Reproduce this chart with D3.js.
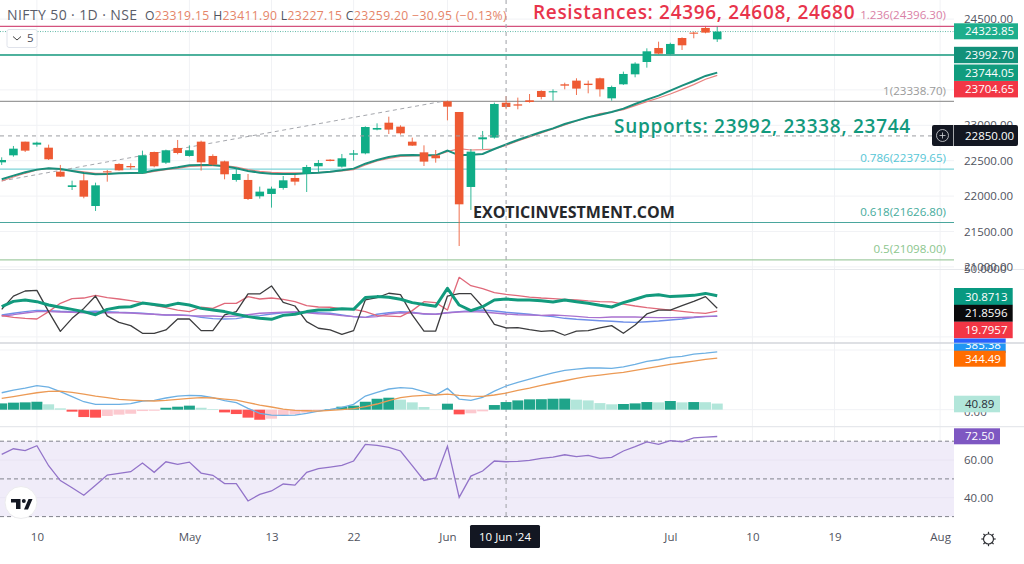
<!DOCTYPE html>
<html><head><meta charset="utf-8">
<script src="https://cdnjs.cloudflare.com/ajax/libs/d3/7.8.5/d3.min.js"></script>
<style>
html,body{margin:0;padding:0;background:#fff;overflow:hidden}
svg{display:block}
text{font-family:"Open Sans",sans-serif}
.tick line,.domain{display:none}
</style></head><body><svg id="c" width="1024" height="564"></svg>
<script>
const opens=[22477,22576,22769,22727,22684,22345,22129,22223,21860,22350,22454,22425,22322,22623,22472,22680,22567,22769,22567,22491,22228,22228,21997,22030,22115,22256,22317,22421,22515,22416,22585,22604,22939,23037,22981,22769,22618,22576,23339,23188,22129,22802,22826,23319.15,23296,23353,23485,23471,23579,23631,23588,23664,23381,23579,23720,23894,24092,24007,24233,24309,24375,24214];
const highs=[22548,22708,22769,22769,22727,22440,22218,22312,22190,22369,22463,22463,22642,22628,22656,22793,22717,22783,22590,22501,22392,22312,22134,22134,22284,22298,22440,22510,22520,22595,22651,22986,23028,23122,23000,22826,22717,22651,23348,23188,22665,22920,23320,23411.9,23391,23442,23494,23508,23602,23664,23631,23673,23560,23758,23890,24087,24181,24167,24243,24323,24403,24393];
const lows=[22440,22557,22623,22698,22510,22270,22086,21969,21790,22204,22360,22378,22312,22407,22454,22590,22557,22360,22430,22237,22204,21945,21964,21837,22091,22152,22058,22336,22491,22402,22501,22590,22929,22877,22868,22708,22425,22472,23070,21295,21804,22665,22811,23227.15,23226,23320,23367,23348,23508,23428,23452,23405,23348,23570,23678,23814,24003,23998,24064,24229,24299,24177];
const closes=[22510,22670,22642,22755,22520,22275,22152,21992,22152,22336,22364,22407,22576,22421,22647,22609,22647,22477,22444,22308,22312,21959,22063,22105,22223,22204,22411,22468,22496,22534,22604,22976,22962,22939,22887,22713,22487,22534,23263,21884,22628,22830,23301,23259.2,23278,23329,23400,23480,23560,23518,23569,23508,23541,23725,23871,24045,24012,24149,24130,24294,24309,24323.85];
const emaFast=[22237,22289,22336,22374,22392,22383,22355,22327,22308,22312,22322,22327,22331,22360,22383,22407,22435,22440,22440,22421,22392,22355,22331,22317,22312,22312,22322,22331,22345,22364,22388,22458,22510,22553,22576,22581,22576,22576,22642,22576,22585,22595,22665,22731,22793,22849,22906,22957,23019,23066,23113,23150,23188,23235,23301,23362,23419,23489,23560,23626,23697,23744.05];
const emaSlow=[22214,22270,22322,22369,22392,22383,22360,22341,22322,22322,22322,22322,22322,22350,22374,22392,22421,22425,22430,22430,22411,22374,22350,22336,22327,22327,22322,22331,22341,22355,22374,22440,22496,22534,22562,22567,22571,22576,22628,22670,22651,22656,22665,22717,22779,22835,22892,22948,23004,23061,23113,23165,23188,23221,23278,23334,23386,23442,23508,23574,23650,23704.65];
const adxGreen=[23.0,26.8,27.8,26.6,24.2,22.6,21.1,19.5,17.3,21.1,22.6,23.0,25.6,24.5,23.5,25.4,24.2,21.8,20.7,19.5,17.6,15.9,14.7,14.0,16.8,17.6,19.5,20.7,20.9,21.6,21.1,29.5,30.2,29.7,28.3,25.9,24.5,23.3,36.1,24.2,20.2,23.0,27.8,28.5,27.8,27.8,27.3,26.4,27.8,26.6,25.4,24.0,22.8,25.9,28.3,30.9,31.6,30.2,30.6,31.1,32.5,30.8713];
const adxBlack=[21.1,30.6,34.2,34.7,19.5,5.4,14.7,21.8,30.6,16.4,11.8,9.5,4.0,4.0,6.4,14.2,14.2,5.9,5.9,17.1,19.5,32.1,32.1,37.8,26.1,23.5,12.3,7.6,6.4,3.3,5.9,27.8,29.5,32.6,31.6,17.1,5.6,5.6,30.6,32.3,32.3,23.0,10.4,7.8,8.0,6.6,5.4,5.9,2.6,5.6,5.9,7.8,9.5,4.0,9.9,17.8,20.6,20.6,23.7,26.8,30.2,21.8596];
const adxRed=[16.6,15.4,14.7,14.2,19.5,25.4,28.7,29.2,31.1,29.5,28.5,27.3,25.9,24.0,22.3,20.6,19.5,22.6,21.8,25.4,25.4,30.2,28.5,29.2,28.3,26.6,23.7,22.8,22.6,21.4,21.1,19.5,16.6,16.3,15.9,20.2,26.6,25.9,20.6,44.0,38.0,35.9,33.0,31.8,30.9,29.9,29.2,28.7,28.3,27.8,27.1,26.6,26.4,24.9,23.5,22.3,21.4,20.6,19.7,18.7,18.3,19.7957];
const adxBlue=[17.1,18.3,19.5,20.4,20.2,19.7,19.5,19.5,19.7,19.5,19.0,18.7,18.3,17.6,17.1,17.1,16.8,15.4,14.5,14.2,14.5,15.9,16.6,17.8,18.7,19.0,19.2,18.7,18.3,17.1,15.9,15.4,17.6,18.7,19.5,19.0,17.8,17.6,18.7,19.5,20.2,20.6,19.9,19.0,18.3,17.6,16.6,15.9,14.7,14.0,13.5,13.0,12.6,12.1,11.8,12.3,12.8,13.5,14.2,15.2,15.9,16.4];
const adxPurple=[16.4,17.3,18.5,19.5,19.5,19.2,19.0,18.7,18.7,18.7,18.7,18.5,18.0,17.6,17.1,17.1,16.6,16.4,16.4,15.9,16.4,17.3,18.3,18.7,19.0,19.2,18.7,18.0,17.6,16.6,15.9,15.4,15.9,17.8,18.7,18.5,18.0,17.6,18.7,19.2,19.5,19.2,18.5,17.8,17.3,17.1,16.8,17.1,16.6,16.1,15.4,15.2,15.6,15.6,15.6,15.4,15.2,15.2,15.4,15.6,16.1,16.1];
const macdLine=[113,131,144,160,151,120,87,53,36,36,36,40,58,62,78,91,95,93,80,60,47,9,-24,-36,-38,-36,-24,-9,2,16,36,91,115,138,147,142,120,98,142,71,62,82,124,158,182,204,226,246,262,271,278,278,275,286,302,322,333,349,355,371,377,385.38];
const signalLine=[75,87,100,113,122,124,115,104,91,80,69,64,60,58,62,69,75,80,78,71,64,47,31,18,4,-4,-7,-9,-4,0,7,20,38,60,80,91,95,98,104,95,91,89,98,111,129,144,162,178,193,209,222,231,240,249,262,275,289,302,313,324,335,344.49];
const macdHist=[42,47,49,53,36,9,-13,-49,-53,-42,-33,-27,-9,-7,13,20,27,13,4,-18,-29,-53,-67,-60,-36,-31,-20,-7,4,20,27,53,73,80,67,49,18,1,40,-31,-24,-11,31,51,62,69,70,73,74,67,62,44,36,38,42,51,49,58,49,51,50,40.89];
const rsiValues=[63.0,66.0,65.0,67.6,57.0,49.1,45.3,41.3,46.6,52.0,52.9,53.8,58.4,53.5,59.1,57.7,58.9,53.1,51.9,47.5,47.5,38.3,41.8,43.6,47.3,46.7,53.5,55.4,56.3,57.2,59.5,68.3,67.8,66.7,64.8,57.0,49.2,50.5,67.3,40.2,51.5,54.2,59.5,59.1,59.3,59.8,60.9,61.6,62.8,61.8,62.5,60.9,61.4,64.8,67.1,69.6,68.3,70.3,69.7,71.8,72.2,72.5];
const timeTickIdx=[3,16,23,30,38,57,64,71,80];
const timeTickLabels=["10","May","13","22","Jun","Jul","10","19","Aug"];
const priceTicks=[24500,24000,23500,23000,22500,22000,21500,21000];
const fibLevels=[1.236,1,0.786,0.618,0.5];
const fibPrices=[24396.30,23338.70,22379.65,21626.80,21098.00];
const fibColors=["#d4527e","#9b9b9b","#7ed3d8","#4aa69d","#a3cda4"];
const fibTextColors=["#d97fa6","#9a9a9a","#55c6d6","#45ab9c","#8cc68e"];
const resistanceLevel=23992.70, lastPrice=24323.85, crossPrice=22850, crossIdx=43;
const trendStart={i:0,v:22214}, trendEnd={i:37.6,v:23338.7};

const svg=d3.select("#c");
const W=954;
const x=d3.scaleLinear().domain([0,80]).range([1.7,940.1]);
const y=d3.scaleLinear().domain([21000,24500]).range([266.9,19.1]);
const yAdx=d3.scaleLinear().domain([0,50]).range([338.9,268.9]);
const yMacd=d3.scaleLinear().domain([0,385.38]).range([409.7,351.9]);
const yRsi=d3.scaleLinear().domain([30,70]).range([516.6,441.2]);
const idx=d3.range(opens.length);
const gray="#50535e";
svg.append("rect").attr("width",1024).attr("height",564).attr("fill","#fff");
svg.append("defs").html('<clipPath id="cm"><rect x="0" y="0" width="954" height="268"/></clipPath><clipPath id="cb"><rect x="954" y="343.6" width="70" height="20"/></clipPath><clipPath id="ca"><rect x="954" y="330" width="70" height="12.8"/></clipPath>');

// grids
const grid=svg.append("g").attr("stroke","#f1f2f5").attr("stroke-width",1);
timeTickIdx.forEach(t=>grid.append("line").attr("x1",x(t)).attr("x2",x(t)).attr("y1",0).attr("y2",517));
priceTicks.forEach(p=>grid.append("line").attr("x1",0).attr("x2",W).attr("y1",y(p)).attr("y2",y(p)));
[0].forEach(p=>grid.append("line").attr("x1",0).attr("x2",W).attr("y1",yAdx(p)-2).attr("y2",yAdx(p)-2));
[yMacd(0),350].forEach(p=>grid.append("line").attr("x1",0).attr("x2",W).attr("y1",p).attr("y2",p));

// RSI band
svg.append("rect").attr("x",0).attr("width",W).attr("y",yRsi(70)).attr("height",yRsi(30)-yRsi(70)).attr("fill","#f0ecf9");
[60,40].forEach(p=>svg.append("line").attr("x1",0).attr("x2",W).attr("y1",yRsi(p)).attr("y2",yRsi(p)).attr("stroke","#e9e5f3"));
[70,50,30].forEach(p=>svg.append("line").attr("x1",0).attr("x2",W).attr("y1",yRsi(p)).attr("y2",yRsi(p)).attr("stroke","#81838c").attr("stroke-dasharray","4 3").attr("stroke-width",1));

// separators
[269.5,343,426.6].forEach((p,i)=>svg.append("line").attr("x1",0).attr("x2",1024).attr("y1",p).attr("y2",p).attr("stroke",i==1?"#d3d6db":"#e6e8ec").attr("stroke-width",i==1?1.6:1.2));

// fib and level lines
const m=svg.append("g").attr("clip-path","url(#cm)");
fibPrices.forEach((p,i)=>m.append("line").attr("x1",0).attr("x2",W).attr("y1",y(p)).attr("y2",y(p)).attr("stroke",fibColors[i]).attr("stroke-width",i==1?1.3:1.2));
m.append("line").attr("x1",0).attr("x2",W).attr("y1",y(resistanceLevel)).attr("y2",y(resistanceLevel)).attr("stroke","#149a7e").attr("stroke-width",1.7);
m.append("line").attr("x1",0).attr("x2",W).attr("y1",y(lastPrice)).attr("y2",y(lastPrice)).attr("stroke","#63b9a8").attr("stroke-dasharray","1 1.5").attr("stroke-width",1);
m.append("line").attr("x1",x(trendStart.i)).attr("x2",x(trendEnd.i)).attr("y1",y(trendStart.v)).attr("y2",y(trendEnd.v)).attr("stroke","#a5a7ad").attr("stroke-dasharray","4 3.5").attr("stroke-width",1);

// moving averages
const line=(ys)=>d3.line().x((d,i)=>x(i)).y(d=>ys(d));
m.append("path").attr("d",line(y)(emaSlow)).attr("fill","none").attr("stroke","#e8827f").attr("stroke-width",1.2);
m.append("path").attr("d",line(y)(emaFast)).attr("fill","none").attr("stroke","#1a8f7c").attr("stroke-width",2);

// crosshair
svg.append("line").attr("x1",x(crossIdx)).attr("x2",x(crossIdx)).attr("y1",0).attr("y2",517).attr("stroke","#a6a8ae").attr("stroke-width",1.1).attr("stroke-dasharray","4 4");
svg.append("line").attr("x1",0).attr("x2",932).attr("y1",y(crossPrice)).attr("y2",y(crossPrice)).attr("stroke","#9b9da3").attr("stroke-width",1).attr("stroke-dasharray","4 4");

// candles
const up="#10ad87", dn="#ee5a33";
const col=i=>closes[i]>=opens[i]?up:dn;
m.selectAll("line.w").data(idx).join("line").attr("class","w").attr("x1",x).attr("x2",x).attr("y1",i=>y(highs[i])).attr("y2",i=>y(lows[i])).attr("stroke",col).attr("stroke-width",1).attr("opacity",.85);
m.selectAll("rect.b").data(idx).join("rect").attr("class","b").attr("x",i=>x(i)-4.3).attr("width",8.6)
 .attr("y",i=>y(Math.max(opens[i],closes[i]))).attr("height",i=>Math.max(1,Math.abs(y(opens[i])-y(closes[i])))).attr("fill",col);

// ADX pane
[[adxBlue,"#6f8fe8",1.4],[adxPurple,"#a971cf",1.4],[adxRed,"#e0697a",1.3],[adxBlack,"#3c3c3e",1.3],[adxGreen,"#129a7d",3]].forEach(([s,c,w])=>
 svg.append("path").attr("d",line(yAdx)(s)).attr("fill","none").attr("stroke",c).attr("stroke-width",w).attr("stroke-linejoin","round"));

// MACD
const histCol=i=>{const v=macdHist[i],p=i?macdHist[i-1]:v-1;return v>=0?(v>p?"#1fa48a":"#b2e6da"):(v<p?"#ff5252":"#fcc9cf")};
svg.selectAll("rect.h").data(idx).join("rect").attr("class","h").attr("x",i=>x(i)-5.5).attr("width",11)
 .attr("y",i=>Math.min(yMacd(0),yMacd(macdHist[i]))).attr("height",i=>Math.abs(yMacd(macdHist[i])-yMacd(0))).attr("fill",histCol);
svg.append("path").attr("d",line(yMacd)(macdLine)).attr("fill","none").attr("stroke","#6db0e3").attr("stroke-width",1.3);
svg.append("path").attr("d",line(yMacd)(signalLine)).attr("fill","none").attr("stroke","#ec9a55").attr("stroke-width",1.3);

// RSI
svg.append("path").attr("d",line(yRsi)(rsiValues)).attr("fill","none").attr("stroke","#9273c9").attr("stroke-width",1.3);

// Axes
function axisStyle(g){g.selectAll("text").attr("fill",gray).style("font-size","11.5px").style("font-family",'"Open Sans",sans-serif');return g;}
axisStyle(svg.append("g").attr("transform","translate(954,0)").call(d3.axisRight(y).tickValues(priceTicks).tickFormat(d3.format(".2f")).tickSize(0).tickPadding(10)));
axisStyle(svg.append("g").attr("transform","translate(954,0)").call(d3.axisRight(yAdx).tickValues([50]).tickFormat(d3.format(".4f")).tickSize(0).tickPadding(10)));
axisStyle(svg.append("g").attr("transform","translate(954,0)").call(d3.axisRight(yRsi).tickValues([60,40]).tickFormat(d3.format(".2f")).tickSize(0).tickPadding(10)));
axisStyle(svg.append("g").attr("transform","translate(954,2)").call(d3.axisRight(yMacd).tickValues([0]).tickFormat(d3.format(".2f")).tickSize(0).tickPadding(10)));
axisStyle(svg.append("g").attr("transform","translate(0,530)").call(d3.axisBottom(x).tickValues(timeTickIdx).tickFormat((d,i)=>timeTickLabels[i]).tickSize(0).tickPadding(3)));

// price labels
function tag(yc,h,xr,bg,fg,t,clip,x0){const g=svg.append("g");if(clip)g.attr("clip-path",clip);
 g.append("rect").attr("x",x0||954).attr("y",yc-h/2).attr("width",xr-(x0||954)).attr("height",h).attr("fill",bg);
 g.append("text").attr("x",965).attr("y",yc).attr("dy","0.36em").attr("fill",fg).style("font-size","11.5px").text(t);}
tag(31.3,16,1018,"#1dae8c","#fff","24323.85");
tag(55,16.4,1018,"#12917a","#fff","23992.70");
tag(72.7,16.4,1018,"#109c7e","#fff","23744.05");
tag(89.2,16.4,1018,"#f23645","#fff","23704.65");
tag(296.5,17,1012.7,"#089981","#fff","30.8713");
tag(313.3,17,1012.7,"#0a0a0c","#fff","21.8596");
tag(330,16.4,1012.7,"#f23645","#fff","19.7957");
tag(345.5,14,1005.7,"#2962ff","#fff","",'url(#ca)');
tag(345,16,1005.7,"#2196f3","#fff","385.38",'url(#cb)');
tag(358.7,16,1005.7,"#ff6d00","#fff","344.49");
tag(404,16.6,1000,"#b2e6da","#2a2e39","40.89");
tag(436.3,16,1000,"#7e57c2","#fff","72.50");
// crosshair price
svg.append("rect").attr("x",932).attr("y",125).attr("width",86).attr("height",21).attr("rx",2).attr("fill","#131722");
svg.append("line").attr("x1",953.5).attr("x2",953.5).attr("y1",125).attr("y2",146).attr("stroke","#e6e6e8").attr("stroke-width",.7);
svg.append("text").attr("x",965).attr("y",y(crossPrice)).attr("dy","0.36em").attr("fill","#fff").style("font-size","11.5px").text("22850.00");
svg.append("circle").attr("cx",942.5).attr("cy",135.5).attr("r",6).attr("fill","none").attr("stroke","#d6d7da").attr("stroke-width",.8);
svg.append("path").attr("d","M939.5 135.5h6M942.5 132.5v6").attr("stroke","#d6d7da").attr("stroke-width",.8);
// date tag
svg.append("rect").attr("x",470).attr("y",525).attr("width",70).attr("height",23).attr("rx",1.5).attr("fill","#131722");
svg.append("text").attr("x",505).attr("y",536.5).attr("dy","0.36em").attr("text-anchor","middle").attr("fill","#fff").style("font-size","11.5px").text("10 Jun '24");

// fib labels
const fibLabelY=[15,90.5,158,212,249];
fibPrices.forEach((p,i)=>svg.append("text").attr("x",946).attr("y",fibLabelY[i]).attr("dy","0.36em").attr("text-anchor","end").attr("fill",fibTextColors[i]).style("font-size","11.6px").text(fibLevels[i]+"("+d3.format(".2f")(p)+")"));

// Legend
svg.append("text").attr("x",7).attr("y",15).attr("dy","0.36em").attr("fill","#5a5d69").style("font-size","14px").style("letter-spacing",".4px").text("NIFTY 50 · 1D · NSE");
const legend=svg.append("text").attr("x",145).attr("y",16).attr("dy","0.36em").style("font-size","12.2px").style("letter-spacing",".35px");
[["O","23319.15"],[" H","23411.90"],[" L","23227.15"],[" C","23259.20"]].forEach(([a,b])=>{legend.append("tspan").attr("fill",gray).text(a);legend.append("tspan").attr("fill","#e58468").text(b);});
legend.append("tspan").attr("fill","#e58468").text(" −30.95 (−0.13%)");
svg.append("rect").attr("x",7).attr("y",29.5).attr("width",30).attr("height",18).attr("rx",2).attr("fill","#fff").attr("stroke","#e0e3eb");
svg.append("path").attr("d","M13 36.5l4 3.5l4-3.5").attr("fill","none").attr("stroke","#444");
svg.append("text").attr("x",27).attr("y",38).attr("dy","0.36em").attr("fill",gray).style("font-size","11.5px").text("5");

// annotations
svg.append("text").attr("x",533).attr("y",12.3).attr("dy","0.36em").attr("fill","#e8344c").style("font-size","19px").style("font-weight",600).style("letter-spacing",".68px").text("Resistances: 24396, 24608, 24680");
svg.append("text").attr("x",614).attr("y",126).attr("dy","0.36em").attr("fill","#12997d").style("font-size","19px").style("font-weight",600).style("letter-spacing",".72px").text("Supports: 23992, 23338, 23744");
svg.append("text").attr("x",473).attr("y",212).attr("dy","0.36em").attr("fill","#26282c").style("font-size","16px").style("font-weight",700).text("EXOTICINVESTMENT.COM");

// TV logo
svg.append("circle").attr("cx",21).attr("cy",502.5).attr("r",16).attr("fill","#fff").attr("stroke","#ececee").attr("stroke-width",1);
svg.append("path").attr("fill","#131722").attr("d","M11 499h9.5v10h-4.5v-6.5h-5zM24 509.5L28.5 499H32.5L28 509.5z");
svg.append("circle").attr("cx",23.8).attr("cy",501).attr("r",2).attr("fill","#131722");
// settings icon
const gear=svg.append("g").attr("transform","translate(988.5,539)").attr("stroke","#2f3136").attr("fill","none").attr("stroke-width",1.2);
gear.append("circle").attr("r",5);
d3.range(8).forEach(k=>{const a=k*Math.PI/4;gear.append("line").attr("x1",5*Math.cos(a)).attr("y1",5*Math.sin(a)).attr("x2",7.2*Math.cos(a)).attr("y2",7.2*Math.sin(a));});
</script></body></html>
